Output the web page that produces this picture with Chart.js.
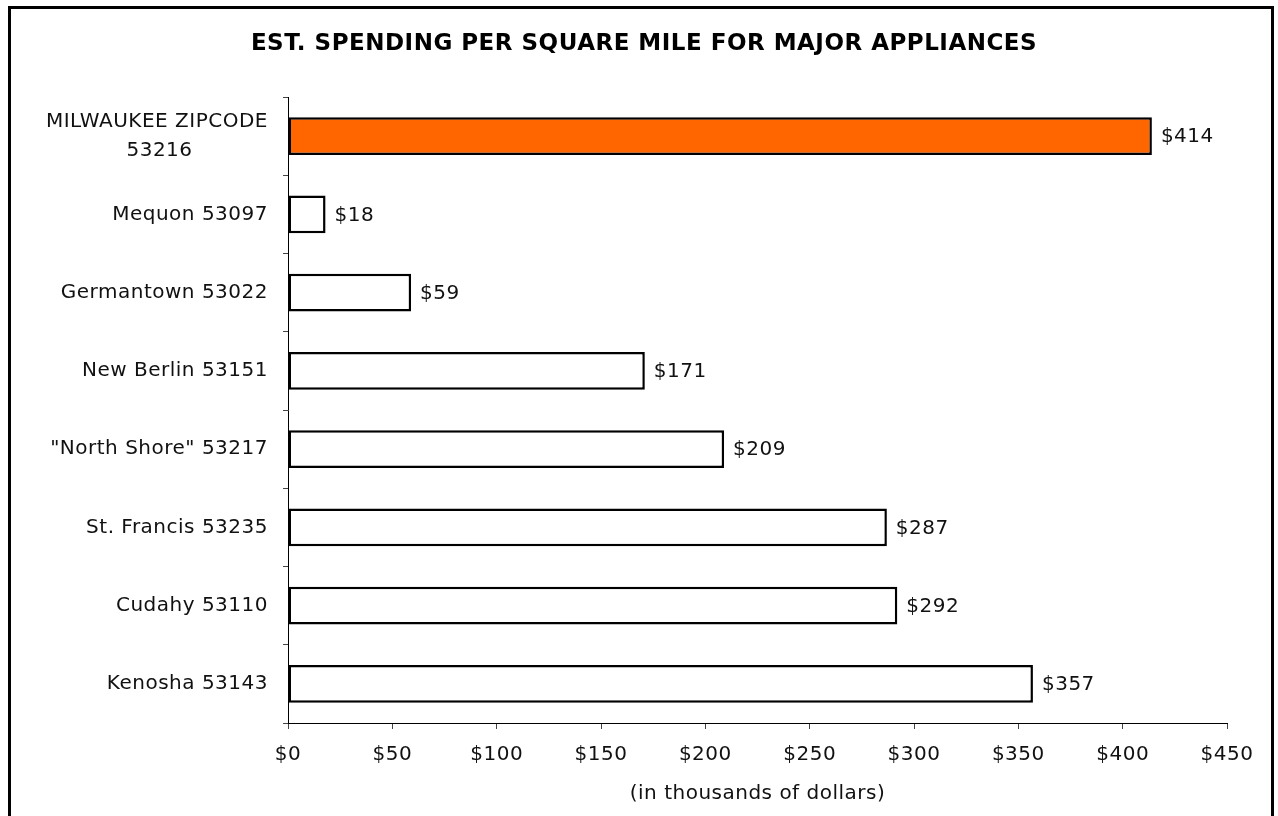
<!DOCTYPE html>
<html>
<head>
<meta charset="utf-8">
<script src="https://cdn.jsdelivr.net/npm/chart.js@4.4.1/dist/chart.umd.min.js"></script>
<style>
  body { margin: 0; background: #fff; }
  #wrap { position: relative; width: 1278px; height: 816px; overflow: hidden; }
  #frame { position: absolute; left: 8px; top: 6px; width: 1266px; height: 840px; border: 3px solid #000; box-sizing: border-box; }
  #chart { position: absolute; left: 0; top: 0; }
</style>
</head>
<body>
<div id="wrap">
  <div id="frame"></div>
  <canvas id="chart" width="1278" height="816"></canvas>
</div>
<script>
// datos del grafico
const categories = [
  ['MILWAUKEE ZIPCODE', '53216'],
  'Mequon 53097',
  'Germantown 53022',
  'New Berlin 53151',
  '"North Shore" 53217',
  'St. Francis 53235',
  'Cudahy 53110',
  'Kenosha 53143'
]
const spending = [414, 18, 59, 171, 209, 287, 292, 357]
const xTicks = [0, 50, 100, 150, 200, 250, 300, 350, 400, 450]

const barColors = spending.map(function (v, i) { return i === 0 ? '#FF6600' : '#FFFFFF' })

// espaciado de letras en el canvas y titulo centrado en el marco
const spacing = {
    id: 'spacing',
    beforeUpdate(chart) { chart.ctx.letterSpacing = '0.5px' },
    beforeLayout(chart) { chart.ctx.letterSpacing = '0.5px' },
    afterLayout(chart) { if (chart.titleBlock) chart.titleBlock.left = 61 },
    beforeDraw(chart) { chart.ctx.letterSpacing = '0.5px' }
}

// etiquetas de valor al final de cada barra
const valueLabels = {
    id: 'valueLabels',
    afterDatasetsDraw(chart) {
        const ctx = chart.ctx
        const meta = chart.getDatasetMeta(0)
        ctx.save()
        ctx.letterSpacing = '0.5px'
        ctx.font = '20px "DejaVu Sans"'
        ctx.fillStyle = '#111'
        ctx.textAlign = 'left'
        ctx.textBaseline = 'middle'
        meta.data.forEach(function (bar, i) {
            ctx.fillText('$' + spending[i], bar.x + 9, bar.y + 1)
        })
        ctx.restore()
    }
}

new Chart(document.getElementById('chart'), {
    type: 'bar',
    data: {
        labels: categories,
        datasets: [{
            data: spending,
            backgroundColor: barColors,
            borderColor: '#000',
            borderWidth: 2.5,
            borderSkipped: false,
            barPercentage: 0.97,
            categoryPercentage: 0.5
        }]
    },
    options: {
        indexAxis: 'y',
        responsive: false,
        animation: false,
        layout: { padding: { left: 20, right: 51, top: 0, bottom: 0 } },
        plugins: {
            legend: { display: false },
            tooltip: { enabled: false },
            title: {
                display: true,
                text: 'EST. SPENDING PER SQUARE MILE FOR MAJOR APPLIANCES',
                color: '#000',
                font: { family: 'DejaVu Sans', size: 23, weight: 'bold', lineHeight: 1.2 },
                padding: { top: 30, bottom: 39.4 }
            }
        },
        scales: {
            x: {
                min: 0,
                max: 450,
                afterBuildTicks: function (scale) {
                    scale.ticks = xTicks.map(function (v) { return { value: v } })
                },
                afterFit: function (scale) { scale.height = 93 },
                border: { color: '#000', width: 1 },
                grid: { drawOnChartArea: false, tickLength: 6, tickColor: '#444' },
                ticks: {
                    padding: 14,
                    color: '#111',
                    font: { family: 'DejaVu Sans', size: 20 },
                    callback: function (v) { return '$' + v }
                },
                title: {
                    display: true,
                    text: '(in thousands of dollars)',
                    color: '#111',
                    font: { family: 'DejaVu Sans', size: 20 },
                    padding: { top: 14, bottom: 10 }
                }
            },
            y: {
                afterFit: function (scale) { scale.width = 268 },
                border: { color: '#000', width: 1 },
                grid: { drawOnChartArea: false, tickLength: 5, tickColor: '#444' },
                ticks: {
                    padding: 15,
                    color: '#111',
                    font: { family: 'DejaVu Sans', size: 20, lineHeight: 1.45 },
                    callback: function (v) {
                        let l = this.getLabelForValue(v)
                        // segunda linea centrada bajo la primera
                        if (Array.isArray(l)) return [l[0], l[1] + '           ']
                        return l
                    }
                }
            }
        }
    },
    plugins: [spacing, valueLabels]
})
</script>
</body>
</html>
